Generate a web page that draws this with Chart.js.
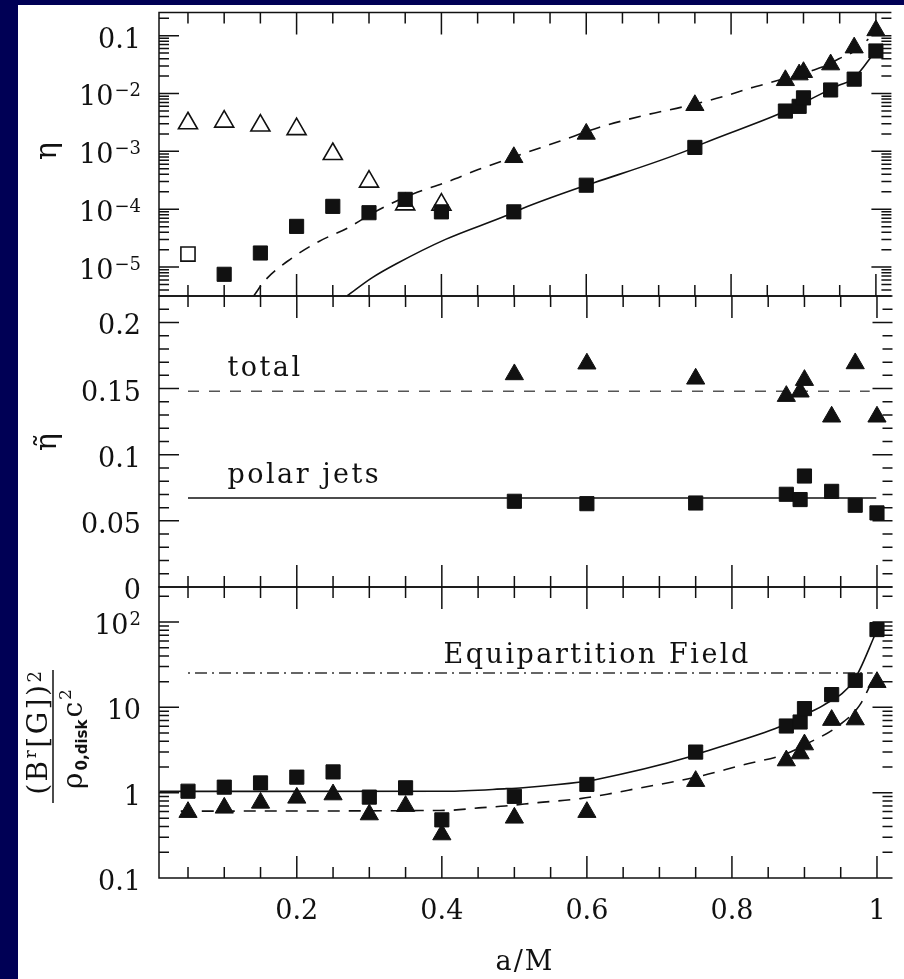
<!DOCTYPE html>
<html>
<head>
<meta charset="utf-8">
<script src="https://cdn.jsdelivr.net/npm/chart.js@4.4.1/dist/chart.umd.min.js"></script>
<style>
  html, body { margin: 0; padding: 0; background: #000055; }
  #page { position: relative; width: 904px; height: 979px; overflow: hidden; }
  #paper { position: absolute; left: 18px; top: 5px; width: 886px; height: 974px; background: #fff; }
  canvas { position: absolute; left: 0; top: 0; }
</style>
</head>
<body>
<div id="page">
  <div id="paper"></div>
  <canvas id="cTop" width="904" height="979"></canvas>
  <canvas id="cMid" width="904" height="979"></canvas>
  <canvas id="cBot" width="904" height="979"></canvas>
</div>
<script>
// values
const spinLow = [0.05, 0.1, 0.15, 0.2, 0.25, 0.3, 0.35, 0.4];
const spinHigh = [0.5, 0.6, 0.75, 0.875, 0.894, 0.9, 0.9375, 0.97, 1.0];
const spinAll = spinLow.concat(spinHigh);

// top panel: eta
const etaOpenTri = [3.06e-3, 3.27e-3, 2.79e-3, 2.42e-3, 9.0e-4, 3.0e-4, 1.21e-4, 1.2e-4];  // x = spinLow
const etaOpenSqX = [0.05];
const etaOpenSq = [1.68e-5];
const etaSqLowX = [0.1, 0.15, 0.2, 0.25, 0.3, 0.35, 0.4];
const etaSqLow = [7.5e-6, 1.75e-5, 5.05e-5, 1.12e-4, 8.7e-5, 1.48e-4, 9.0e-5];
const etaSqHigh = [9.0e-5, 2.6e-4, 1.17e-3, 4.97e-3, 6.0e-3, 8.4e-3, 1.15e-2, 1.77e-2, 5.43e-2];
const etaTriHigh = [7.9e-4, 2.0e-3, 6.26e-3, 1.69e-2, 2.12e-2, 2.33e-2, 3.16e-2, 6.2e-2, 0.123];
// fitted curves
const etaTriFitX = [0.141, 0.157, 0.1925, 0.2315, 0.270, 0.311, 0.3605, 0.4057, 0.4509, 0.5143, 0.5642,
  0.6185, 0.6864, 0.7356, 0.7899, 0.8266, 0.8579, 0.9122, 0.9312, 0.9489, 0.9665, 0.9896];
const etaTriFit = [3.2e-6, 6.0e-6, 1.4e-5, 2.8e-5, 4.7e-5, 9.4e-5, 1.84e-4, 2.89e-4, 4.84e-4, 9.24e-4, 1.51e-3,
  2.61e-3, 4.37e-3, 5.96e-3, 8.9e-3, 1.24e-2, 1.59e-2, 2.50e-2, 3.04e-2, 3.99e-2, 5.04e-2, 8.67e-2];
const etaSqFitX = [0.27, 0.304, 0.3378, 0.4057, 0.4916, 0.512, 0.5913, 0.6117, 0.7407, 0.761, 0.865, 0.908, 0.9488, 0.9682, 1.0];
const etaSqFit = [3.2e-6, 6.5e-6, 1.14e-5, 3.01e-5, 7.94e-5, 1.03e-4, 2.38e-4, 2.89e-4, 1.05e-3, 1.36e-3, 4.37e-3, 7.79e-3, 1.39e-2, 1.77e-2, 5.5e-2];
const etaTicks = [0.1, 1e-2, 1e-3, 1e-4, 1e-5];
const etaTickLabels = [['0.1', ''], ['10', '\u22122'], ['10', '\u22123'], ['10', '\u22124'], ['10', '\u22125']];

// middle panel: eta tilde
const effTotal = [0.1607, 0.1688, 0.1574, 0.1443, 0.1476, 0.1564, 0.1287, 0.1690, 0.1287];  // x = spinHigh
const effJets = [0.0648, 0.0630, 0.0635, 0.0701, 0.0661, 0.0839, 0.0723, 0.0618, 0.0560];
const totalLevelX = [0.05, 0.99];
const totalLevel = [0.148, 0.148];
const jetLevelX = [0.05, 0.999];
const jetLevel = [0.0673, 0.0673];
const effTicks = [0.2, 0.15, 0.1, 0.05, 0];
const effTickLabels = [['0.2', ''], ['0.15', ''], ['0.1', ''], ['0.05', ''], ['0', '']];

// bottom panel: (B^r[G])^2 / rho c^2
const fieldSq = [1.04, 1.16, 1.30, 1.52, 1.75, 0.887, 1.14, 0.48, 0.906, 1.25, 2.99, 6.04, 6.73, 9.66, 14.1, 20.7, 81.5];  // x = spinAll
const fieldTri = [0.591, 0.664, 0.759, 0.869, 0.950, 0.554, 0.695, 0.323, 0.507, 0.591, 1.364, 2.378, 2.873, 3.66, 7.08, 7.19, 19.7];
const fieldSqFitX = [0.0106, 0.4057, 0.4895, 0.512, 0.5913, 0.6117, 0.7407, 0.761, 0.865, 0.908, 0.926, 0.9682, 1.0];
const fieldSqFit = [1.036, 1.04, 1.114, 1.144, 1.331, 1.42, 2.614, 2.992, 5.875, 8.81, 10.55, 20.7, 80];
const fieldTriFitX = [0.04, 0.4057, 0.4555, 0.4872, 0.5324, 0.5913, 0.6365, 0.668, 0.7506, 0.813, 0.875, 0.9036, 0.9443, 0.976, 0.994];
const fieldTriFit = [0.608, 0.620, 0.667, 0.697, 0.764, 0.851, 0.989, 1.114, 1.52, 2.09, 2.86, 3.75, 5.87, 10.55, 20.7];
const equipX = [0.05, 0.994];
const equip = [25.2, 25.2];
const fieldTicks = [100, 10, 1, 0.1];
const fieldTickLabels = [['10', '2'], ['10', ''], ['1', ''], ['0.1', '']];

const xTicks = [0.2, 0.4, 0.6, 0.8, 1.0];
const xTickLabels = ['0.2', '0.4', '0.6', '0.8', '1'];

const INK = '#111';
const SERIF = "'DejaVu Serif', 'Liberation Serif', serif";
const X_MIN = 0.01, X_MAX = 1.0214;

function pts(xs, ys) { return xs.map((x, i) => ({ x, y: ys[i] })); }

function logMinors(min, max) {
  const out = [];
  for (let e = Math.floor(Math.log10(min)); e <= Math.ceil(Math.log10(max)); e++) {
    for (let m = 2; m <= 9; m++) {
      const v = m * Math.pow(10, e);
      if (v > min && v < max) out.push(v);
    }
  }
  return out;
}
function linMinors(min, max, step, majorStep) {
  const out = [];
  for (let i = Math.ceil(min / step); i * step <= max + 1e-9; i++) {
    if (i % Math.round(majorStep / step) !== 0) out.push(i * step);
  }
  return out;
}

const panels = {
  cTop: { top: 6, bottom: 296, major: etaTicks, labels: etaTickLabels, minor: logMinors(Math.pow(10, -5.5), 0.25), title: 'eta',
          notes: [] },
  cMid: { top: 296, bottom: 587, major: effTicks, labels: effTickLabels, minor: linMinors(0, 0.22, 0.01, 0.05), title: 'etatilde',
          notes: [{ text: 'total', x: 0.1043, y: 0.1593 }, { text: 'polar jets', x: 0.1043, y: 0.0784 }] },
  cBot: { top: 587, bottom: 878, major: fieldTicks, labels: fieldTickLabels, minor: logMinors(0.1, 257), title: 'field',
          notes: [{ text: 'Equipartition Field', x: 0.4023, y: 32.8 }], xLabels: true }
};

function drawTickLabel(ctx, lab, xr, yb) {
  ctx.textAlign = 'right';
  ctx.textBaseline = 'alphabetic';
  if (lab[1]) {
    ctx.font = '18px ' + SERIF;
    const we = ctx.measureText(lab[1]).width;
    ctx.fillText(lab[1], xr, yb - 9);
    ctx.font = '27px ' + SERIF;
    ctx.fillText(lab[0], xr - we - 1, yb);
  } else {
    ctx.font = '27px ' + SERIF;
    ctx.fillText(lab[0], xr, yb);
  }
}

// runs of [text, size, raise, weight, family] laid out left to right, centred on u
function drawRuns(ctx, runs, u, v, gap) {
  const widths = runs.map(r => { ctx.font = (r[3] || '') + ' ' + r[1] + 'px ' + (r[4] || SERIF); return ctx.measureText(r[0]).width; });
  const total = widths.reduce((a, b) => a + b, 0) + gap * (runs.length - 1);
  let x = u - total / 2;
  runs.forEach((r, i) => {
    ctx.font = (r[3] || '') + ' ' + r[1] + 'px ' + (r[4] || SERIF);
    ctx.fillText(r[0], x, v + r[2]);
    x += widths[i] + gap;
  });
}

function drawTitle(ctx, kind) {
  ctx.save();
  ctx.fillStyle = INK;
  ctx.textAlign = 'center';
  ctx.textBaseline = 'alphabetic';
  if (kind === 'eta') {
    ctx.translate(56, 151);
    ctx.rotate(-Math.PI / 2);
    ctx.font = '30px ' + SERIF;
    ctx.fillText('\u03b7', 0, 0);
  } else if (kind === 'etatilde') {
    ctx.translate(56, 442);
    ctx.rotate(-Math.PI / 2);
    ctx.font = '30px ' + SERIF;
    ctx.fillText('\u03b7\u0303', 0, 0);
  } else {
    ctx.translate(53, 733);
    ctx.rotate(-Math.PI / 2);
    ctx.textAlign = 'left';
    drawRuns(ctx, [['(', 28, 0], ['B', 28, 0], ['r', 17, -11], ['[', 28, 0], ['G', 28, 0], [']', 28, 0], [')', 28, 0], ['2', 18, -6]], 0, -6, 2.5);
    ctx.strokeStyle = INK;
    ctx.lineWidth = 1.5;
    ctx.beginPath();
    ctx.moveTo(-70, 0);
    ctx.lineTo(63, 0);
    ctx.stroke();
    drawRuns(ctx, [['\u03c1', 28, 0], ['0,disk', 15, 5, 'bold', "'DejaVu Sans', sans-serif"], ['c', 28, 0], ['2', 17, -11]], -6, 29, 2);
  }
  ctx.restore();
}

const decor = {
  id: 'decor',
  beforeDatasetsDraw(chart) {
    const p = panels[chart.canvas.id];
    const { ctx, chartArea: a, scales: { x, y } } = chart;
    ctx.save();
    ctx.strokeStyle = INK;
    ctx.lineWidth = 1.5;
    ctx.beginPath();
    // frame: the right edge falls on the picture border
    ctx.moveTo(a.right, a.top); ctx.lineTo(a.left, a.top); ctx.lineTo(a.left, a.bottom); ctx.lineTo(a.right, a.bottom);
    for (let k = 1; k <= 20; k++) {
      const v = k * 0.05;
      const len = k % 4 === 0 ? 22 : 11;
      const px = x.getPixelForValue(v);
      ctx.moveTo(px, a.top); ctx.lineTo(px, a.top + len);
      ctx.moveTo(px, a.bottom); ctx.lineTo(px, a.bottom - len);
    }
    const yTick = (v, len) => {
      const py = y.getPixelForValue(v);
      ctx.moveTo(a.left, py); ctx.lineTo(a.left + len, py);
      ctx.moveTo(a.right, py); ctx.lineTo(a.right - len, py);
    };
    p.major.forEach(v => yTick(v, 20));
    p.minor.forEach(v => yTick(v, 10));
    ctx.stroke();
    ctx.restore();
  },
  afterDraw(chart) {
    const p = panels[chart.canvas.id];
    const { ctx, chartArea: a, scales: { x, y } } = chart;
    ctx.save();
    ctx.fillStyle = INK;
    p.major.forEach((v, i) => drawTickLabel(ctx, p.labels[i], 141, y.getPixelForValue(v) + 12));
    ctx.font = '27px ' + SERIF;
    ctx.textAlign = 'left';
    ctx.textBaseline = 'alphabetic';
    ctx.letterSpacing = '2.5px';
    p.notes.forEach(n => ctx.fillText(n.text, x.getPixelForValue(n.x), y.getPixelForValue(n.y)));
    if (p.xLabels) {
      ctx.letterSpacing = '0px';
      ctx.textAlign = 'center';
      xTicks.forEach((v, i) => ctx.fillText(xTickLabels[i], x.getPixelForValue(v), a.bottom + 41));
      ctx.letterSpacing = '2px';
      ctx.fillText('a/M', x.getPixelForValue(0.5146), a.bottom + 92);
    }
    ctx.restore();
    drawTitle(ctx, p.title);
  }
};

const square = (data, fill) => ({ data, pointStyle: 'rect', pointRadius: 10, pointBackgroundColor: fill || INK,
  pointBorderColor: INK, pointBorderWidth: fill ? 1.6 : 1 });
const triangle = (data, fill) => ({ data, pointStyle: 'triangle', pointRadius: fill ? 11 : 10.5, pointBackgroundColor: fill || INK,
  pointBorderColor: INK, pointBorderWidth: fill ? 1.6 : 1 });
const curve = (data, dash, color) => ({ data, showLine: true, pointRadius: 0, borderColor: color || INK, borderWidth: 1.6,
  borderDash: dash || [], cubicInterpolationMode: 'monotone', fill: false });

function makeChart(id, datasets, yScale) {
  const p = panels[id];
  return new Chart(document.getElementById(id), {
    type: 'scatter',
    data: { datasets },
    options: {
      responsive: false,
      animation: false,
      devicePixelRatio: 1,
      events: [],
      layout: { padding: { left: 159, right: 0, top: p.top, bottom: 979 - p.bottom } },
      plugins: { legend: { display: false }, tooltip: { enabled: false } },
      scales: {
        x: { type: 'linear', min: X_MIN, max: X_MAX, display: false },
        y: Object.assign({ display: false }, yScale)
      }
    },
    plugins: [decor]
  });
}

makeChart('cTop', [
  square(pts(etaSqLowX, etaSqLow)),
  square(pts(spinHigh, etaSqHigh)),
  square(pts(etaOpenSqX, etaOpenSq), '#fff'),
  triangle(pts(spinHigh, etaTriHigh)),
  triangle(pts(spinLow, etaOpenTri), '#fff'),
  curve(pts(etaTriFitX, etaTriFit), [12, 9]),
  curve(pts(etaSqFitX, etaSqFit))
], { type: 'logarithmic', min: Math.pow(10, -5.5), max: 0.25 });

makeChart('cMid', [
  square(pts(spinHigh, effJets)),
  triangle(pts(spinHigh, effTotal)),
  curve(pts(totalLevelX, totalLevel), [11, 10], '#555'),
  curve(pts(jetLevelX, jetLevel))
], { type: 'linear', min: 0, max: 0.22 });

makeChart('cBot', [
  square(pts(spinAll, fieldSq)),
  triangle(pts(spinAll, fieldTri)),
  curve(pts(fieldSqFitX, fieldSqFit)),
  curve(pts(fieldTriFitX, fieldTriFit), [12, 9]),
  curve(pts(equipX, equip), [2, 5, 12, 5], '#333')
], { type: 'logarithmic', min: 0.1, max: 257 });
</script>
</body>
</html>
